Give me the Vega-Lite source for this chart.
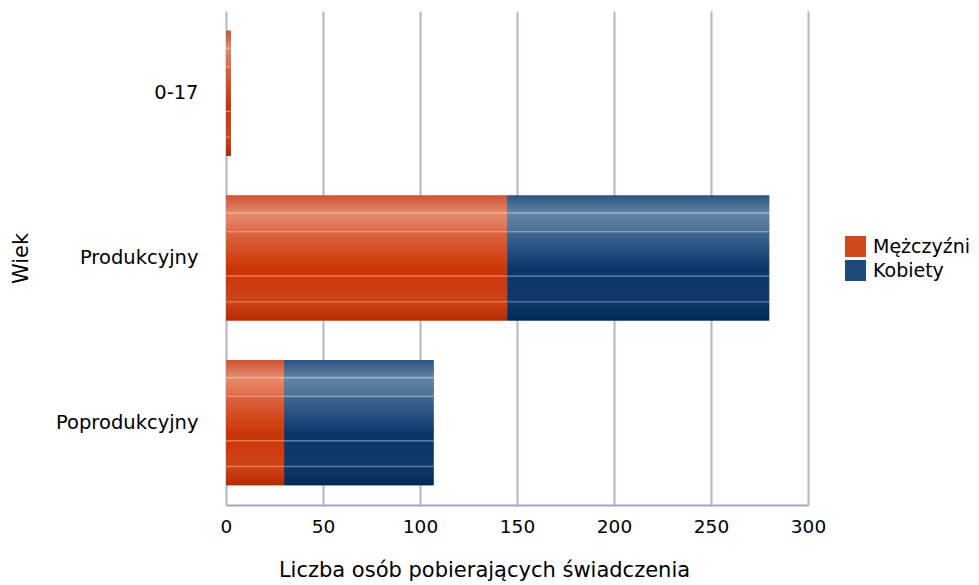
{
  "$schema": "https://vega.github.io/schema/vega-lite/v6.json",
  "width": 582,
  "height": 494,
  "autosize": {"type": "none"},
  "padding": {"left": 226, "top": 11, "right": 171, "bottom": 80},
  "background": "white",
  "config": {
    "view": {"stroke": null},
    "font": "DejaVu Sans"
  },
  "data": {
    "values": [
      {"wiek": "0-17", "plec": "Mężczyźni", "liczba": 2.5},
      {"wiek": "0-17", "plec": "Kobiety", "liczba": 0},
      {"wiek": "Produkcyjny", "plec": "Mężczyźni", "liczba": 145},
      {"wiek": "Produkcyjny", "plec": "Kobiety", "liczba": 135},
      {"wiek": "Poprodukcyjny", "plec": "Mężczyźni", "liczba": 30},
      {"wiek": "Poprodukcyjny", "plec": "Kobiety", "liczba": 77}
    ]
  },
  "transform": [
    {"stack": "liczba", "groupby": ["wiek"], "sort": [{"field": "plec", "order": "descending"}], "as": ["x0", "x1"]}
  ],
  "encoding": {
    "y": {
      "field": "wiek",
      "type": "nominal",
      "sort": ["0-17", "Produkcyjny", "Poprodukcyjny"],
      "scale": {"paddingInner": 0.24, "paddingOuter": 0.12},
      "axis": {
        "title": "Wiek",
        "titleFontSize": 21,
        "titleFontWeight": "normal",
        "titleColor": "#000000",
        "titlePadding": 24,
        "labelFontSize": 19.5,
        "labelColor": "#000000",
        "labelPadding": 28,
        "ticks": false,
        "domain": false,
        "grid": false
      }
    },
    "x": {
      "field": "x0",
      "type": "quantitative",
      "scale": {"domain": [0, 300], "nice": false},
      "axis": {
        "title": "Liczba osób pobierających świadczenia",
        "titleFontSize": 21,
        "titleFontWeight": "normal",
        "titleColor": "#000000",
        "titlePadding": 24,
        "titleX": 258,
        "titleAlign": "center",
        "values": [0, 50, 100, 150, 200, 250, 300],
        "labelFontSize": 18.5,
        "labelColor": "#000000",
        "labelPadding": 12,
        "labelFlush": false,
        "ticks": false,
        "domain": true,
        "domainColor": "#a4a4c0",
        "domainWidth": 2,
        "grid": true,
        "gridColor": "#b4b4cc",
        "gridWidth": 2
      }
    },
    "x2": {"field": "x1"}
  },
  "layer": [
    {
      "mark": {"type": "bar", "strokeWidth": 0},
      "encoding": {
        "color": {
          "field": "plec",
          "type": "nominal",
          "scale": {"domain": ["Mężczyźni", "Kobiety"], "range": ["#d04a20", "#1d4a7a"]},
          "legend": {
            "title": null,
            "orient": "none",
            "legendX": 619,
            "legendY": 225,
            "symbolType": "square",
            "symbolSize": 441,
            "symbolStrokeWidth": 0,
            "symbolOffset": 0,
            "labelFontSize": 19,
            "labelColor": "#000000",
            "labelOffset": 7,
            "rowPadding": 3,
            "encoding": {
              "symbols": {
                "fill": {
                  "condition": {"test": "datum.value === 'Mężczyźni'", "value": {"gradient": "linear", "x1": 0, "y1": 0, "x2": 0, "y2": 1, "stops": [
                    {"offset": 0, "color": "#e89a80"},
                    {"offset": 0.25, "color": "#e07050"},
                    {"offset": 0.3, "color": "#f0a080"},
                    {"offset": 0.35, "color": "#d85a30"},
                    {"offset": 0.62, "color": "#cc3300"},
                    {"offset": 0.66, "color": "#e88060"},
                    {"offset": 0.7, "color": "#cc3a0c"},
                    {"offset": 1, "color": "#c03000"}
                  ]}},
                  "value": {"gradient": "linear", "x1": 0, "y1": 0, "x2": 0, "y2": 1, "stops": [
                    {"offset": 0, "color": "#8aa4c0"},
                    {"offset": 0.25, "color": "#5a7ca0"},
                    {"offset": 0.3, "color": "#90a8c4"},
                    {"offset": 0.35, "color": "#3a6088"},
                    {"offset": 0.62, "color": "#0a3668"},
                    {"offset": 0.66, "color": "#6a88aa"},
                    {"offset": 0.7, "color": "#0a3668"},
                    {"offset": 1, "color": "#083060"}
                  ]}
                }
              }
            }
          }
        }
      }
    },
    {
      "transform": [{"filter": "datum.plec === 'Mężczyźni'"}],
      "mark": {"type": "bar", "strokeWidth": 0, "color": {"gradient": "linear", "x1": 0, "y1": 0, "x2": 0, "y2": 1, "stops": [
        {"offset": 0, "color": "#cf5330"},
        {"offset": 0.13, "color": "#e2866a"},
        {"offset": 0.14, "color": "#f2b59a"},
        {"offset": 0.15, "color": "#e48a6c"},
        {"offset": 0.28, "color": "#de6c4c"},
        {"offset": 0.29, "color": "#ef9878"},
        {"offset": 0.30, "color": "#dc6340"},
        {"offset": 0.6, "color": "#cb3404"},
        {"offset": 0.635, "color": "#cc3608"},
        {"offset": 0.645, "color": "#f08a68"},
        {"offset": 0.655, "color": "#cc380c"},
        {"offset": 0.84, "color": "#cd4418"},
        {"offset": 0.85, "color": "#e07a58"},
        {"offset": 0.86, "color": "#cd4216"},
        {"offset": 1, "color": "#b52a00"}
      ]}}
    },
    {
      "transform": [{"filter": "datum.plec === 'Kobiety'"}],
      "mark": {"type": "bar", "strokeWidth": 0, "color": {"gradient": "linear", "x1": 0, "y1": 0, "x2": 0, "y2": 1, "stops": [
        {"offset": 0, "color": "#2b5582"},
        {"offset": 0.13, "color": "#5d7fa3"},
        {"offset": 0.14, "color": "#a6bccf"},
        {"offset": 0.15, "color": "#6384a6"},
        {"offset": 0.28, "color": "#4d7096"},
        {"offset": 0.29, "color": "#8ea8c2"},
        {"offset": 0.30, "color": "#3f6790"},
        {"offset": 0.6, "color": "#08346a"},
        {"offset": 0.635, "color": "#0a3668"},
        {"offset": 0.645, "color": "#7492b4"},
        {"offset": 0.655, "color": "#0a3668"},
        {"offset": 0.84, "color": "#11396a"},
        {"offset": 0.85, "color": "#5c7ca2"},
        {"offset": 0.86, "color": "#103868"},
        {"offset": 1, "color": "#002b58"}
      ]}}
    }
  ]
}
